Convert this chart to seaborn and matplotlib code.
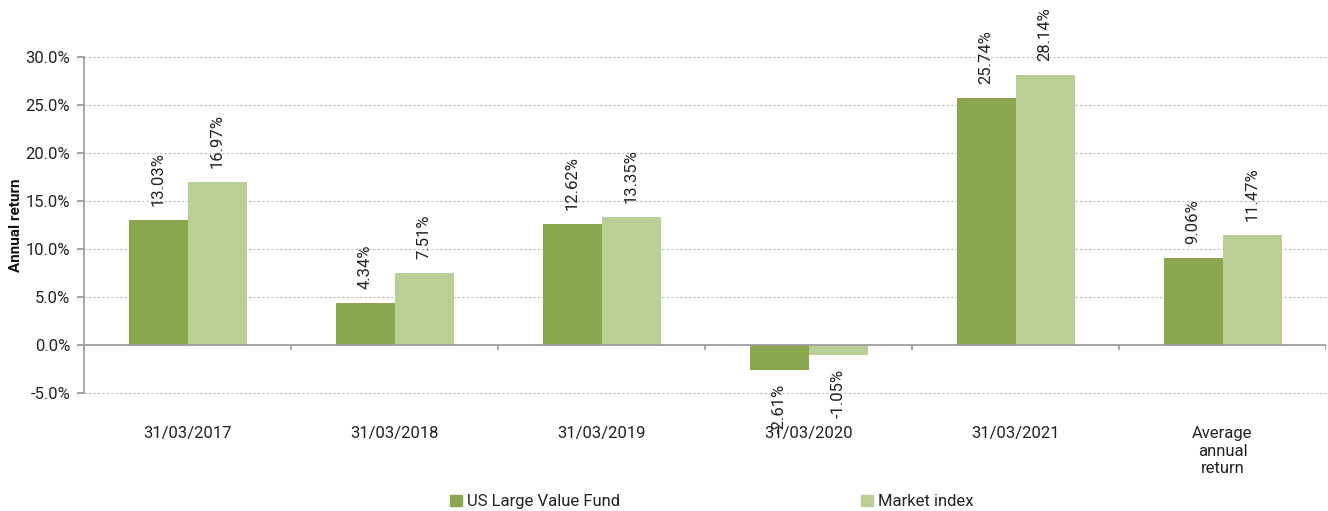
import matplotlib.pyplot as plt
import seaborn as sns
import pandas as pd
from matplotlib.ticker import FuncFormatter, MultipleLocator
from matplotlib.patches import Patch

sns.set_theme(style="white")
plt.rcParams['font.family'] = ['Roboto', 'DejaVu Sans']
plt.rcParams['figure.dpi'] = 100

categories = ['31/03/2017', '31/03/2018', '31/03/2019', '31/03/2020', '31/03/2021',
              'Average\nannual\nreturn']
fund = [13.03, 4.34, 12.62, -2.61, 25.74, 9.06]
index = [16.97, 7.51, 13.35, -1.05, 28.14, 11.47]
series = ['US Large Value Fund', 'Market index']
colori = ['#8aa64e', '#b9cf95']

df = pd.DataFrame({
    'periodo': categories * 2,
    'rendimento': fund + index,
    'serie': [series[0]] * len(fund) + [series[1]] * len(index),
})

fig = plt.figure(figsize=(13.28, 5.11))
ax = fig.add_axes([0.0633, 0.2309, 0.9352, 0.6576])

sns.barplot(data=df, x='periodo', y='rendimento', hue='serie', palette=colori,
            width=0.57, saturation=1, ax=ax, legend=False, errorbar=None,
            linewidth=0)

# etichette valori ruotate
for cont in ax.containers:
    ax.bar_label(cont, labels=[f'{v:.2f}%' for v in cont.datavalues],
                 rotation=90, padding=10, fontsize=12, color='#222222')

ax.set_ylim(-5, 30)
ax.set_xlim(-0.5, len(categories) - 0.5)
ax.yaxis.set_major_locator(MultipleLocator(5))
ax.yaxis.set_major_formatter(FuncFormatter(lambda v, p: f'{v:.1f}%'))
ax.grid(axis='y', color='#bbbbbb', linestyle=(0, (2, 2)), linewidth=0.8)
ax.set_axisbelow(True)
for gl in ax.get_ygridlines():
    gl.set_clip_on(False)

for s in ['top', 'right', 'bottom']:
    ax.spines[s].set_visible(False)
ax.spines['left'].set_color('#999999')
ax.spines['left'].set_linewidth(1.2)
ax.tick_params(axis='y', left=True, length=5, color='#999999', labelsize=12, pad=5,
               labelcolor='#222222')
ax.tick_params(axis='x', bottom=False, length=0, labelsize=12, pad=24,
               labelcolor='#222222')

# asse zero con tacche ai confini delle categorie
ax.axhline(0, color='#999999', linewidth=1.2, zorder=3)
ax.vlines([i - 0.5 for i in range(len(categories) + 1)], -0.5, 0,
          color='#999999', linewidth=1.2, zorder=3)

ax.set_xlabel('')
ax.set_ylabel('Annual return', fontsize=11, fontweight='bold', labelpad=2,
              color='#111111')

handles = [Patch(color=c) for c in colori]
fig.legend(handles, series, loc='lower center', bbox_to_anchor=(0.536, -0.026), ncol=2,
           frameon=False, fontsize=12, handlelength=0.7, handleheight=0.7,
           handletextpad=0.3, columnspacing=14.5, labelcolor='#222222')

fig.savefig('out.png', dpi=100)
